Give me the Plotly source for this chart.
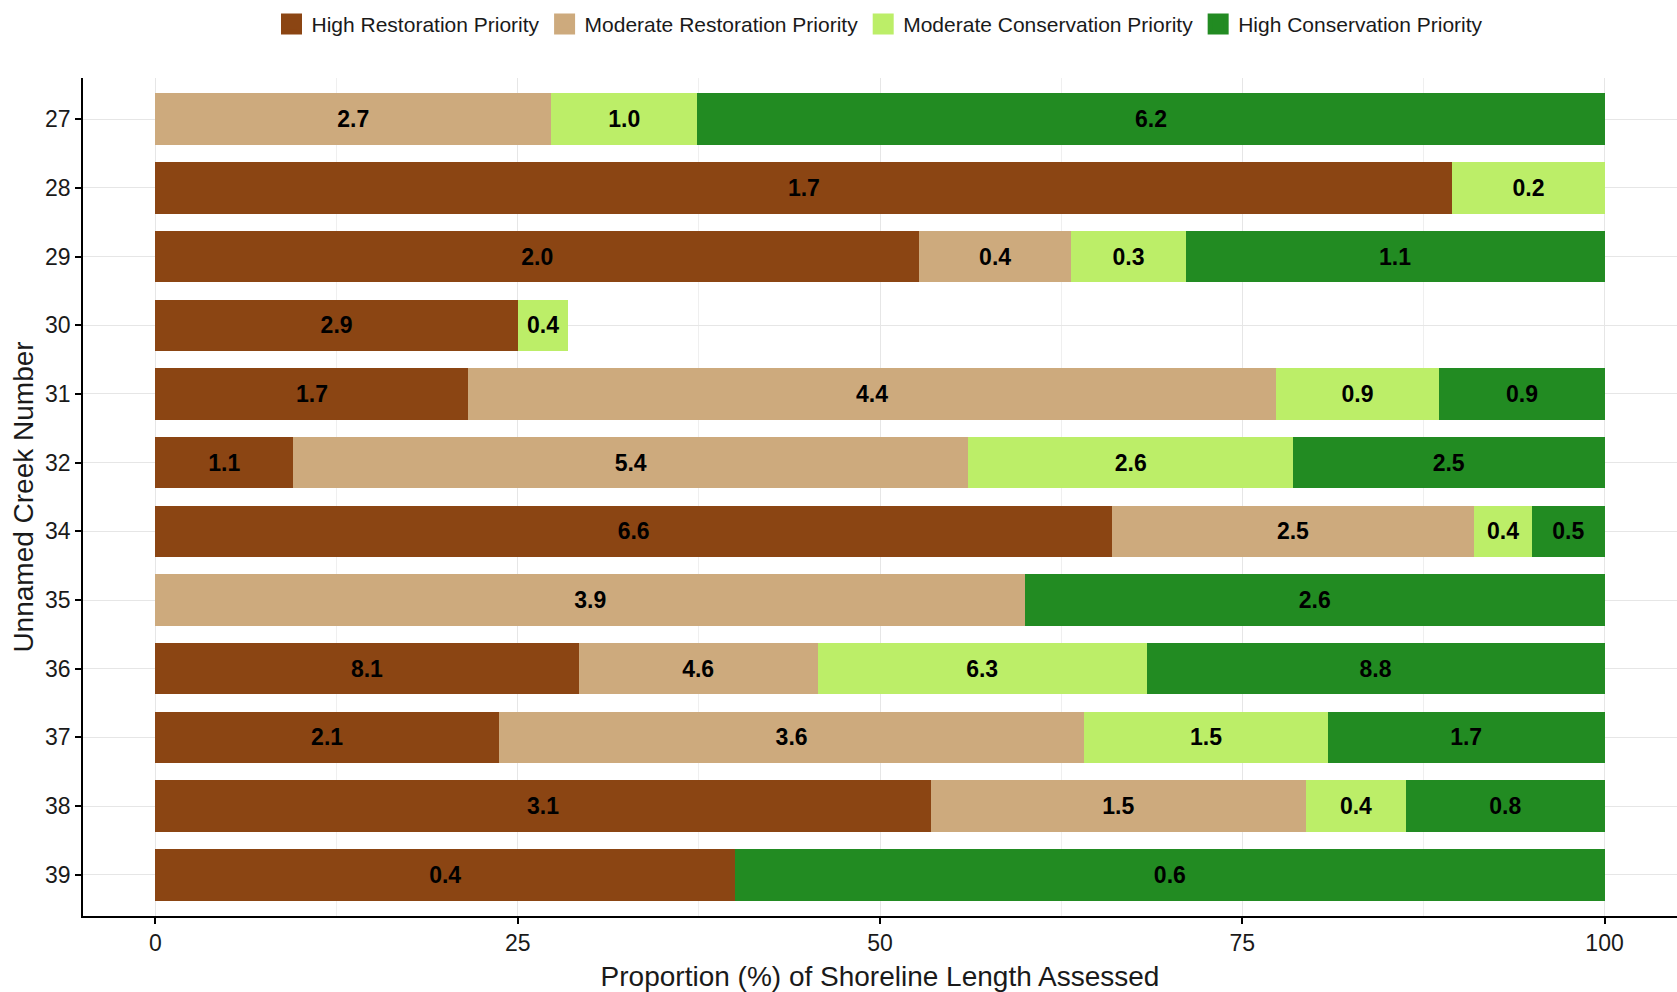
import plotly.graph_objects as go

creeks = ["27", "28", "29", "30", "31", "32", "34", "35", "36", "37", "38", "39"]

categories = ["High Restoration Priority", "Moderate Restoration Priority",
              "Moderate Conservation Priority", "High Conservation Priority"]
colors = ["#8B4513", "#CDAA7D", "#BCEE68", "#228B22"]

# proportion (%) of shoreline length assessed
high_rest = [None, 89.5, 52.7, 25.0, 21.6, 9.5, 66.0, None, 29.2, 23.7, 53.5, 40.0]
mod_rest = [27.3, None, 10.5, None, 55.7, 46.6, 25.0, 60.0, 16.5, 40.4, 25.9, None]
mod_cons = [10.1, 10.5, 7.9, 3.5, 11.3, 22.4, 4.0, None, 22.7, 16.8, 6.9, None]
high_cons = [62.6, None, 28.9, None, 11.4, 21.5, 5.0, 40.0, 31.6, 19.1, 13.7, 60.0]

# labelled lengths
high_rest_lbl = ["", "1.7", "2.0", "2.9", "1.7", "1.1", "6.6", "", "8.1", "2.1", "3.1", "0.4"]
mod_rest_lbl = ["2.7", "", "0.4", "", "4.4", "5.4", "2.5", "3.9", "4.6", "3.6", "1.5", ""]
mod_cons_lbl = ["1.0", "0.2", "0.3", "0.4", "0.9", "2.6", "0.4", "", "6.3", "1.5", "0.4", ""]
high_cons_lbl = ["6.2", "", "1.1", "", "0.9", "2.5", "0.5", "2.6", "8.8", "1.7", "0.8", "0.6"]

x_ticks = [0, 25, 50, 75, 100]

series = [high_rest, mod_rest, mod_cons, high_cons]
labels = [high_rest_lbl, mod_rest_lbl, mod_cons_lbl, high_cons_lbl]

FONT = "Arial, Liberation Sans, sans-serif"
LBL_FONT = "Liberation Sans Narrow, Arial Narrow, Arial, Liberation Sans, sans-serif"

fig = go.Figure()
for name, vals, lbls, col in zip(categories, series, labels, colors):
    fig.add_trace(go.Bar(
        y=creeks, x=vals, orientation="h", name=name,
        marker=dict(color=col, line=dict(width=0)),
        text=lbls, texttemplate="%{text}", textposition="inside",
        insidetextanchor="middle", textangle=0,
        textfont=dict(family=LBL_FONT, size=23, color="black", weight="bold"),
        showlegend=False, hoverinfo="skip",
    ))

# legend entries with larger square keys
for name, col in zip(categories, colors):
    fig.add_trace(go.Scatter(
        x=[None], y=[None], mode="markers", name=name,
        marker=dict(symbol="square", size=16, color=col, line=dict(color=col, width=5)),
        showlegend=True, hoverinfo="skip",
    ))

fig.update_layout(
    width=1677, height=992,
    barmode="stack", bargap=0.25,
    plot_bgcolor="white", paper_bgcolor="white",
    margin=dict(l=83, r=0, t=78, b=76),
    font=dict(family=FONT, color="#1a1a1a"),
    uniformtext=dict(minsize=23, mode="show"),
    legend=dict(
        orientation="h", x=0.5, xanchor="center", y=1.064, yanchor="middle",
        font=dict(family=FONT, size=21, color="#1a1a1a"),
        itemwidth=30, traceorder="normal", itemsizing="trace",
    ),
    xaxis=dict(
        range=[-5, 105], tickvals=x_ticks, ticktext=[str(v) for v in x_ticks],
        showline=True, linecolor="black", linewidth=1.5,
        ticks="outside", ticklen=6, tickcolor="black", tickwidth=1.5,
        tickfont=dict(size=23, color="#1a1a1a"),
        showgrid=True, gridcolor="#E6E6E6", gridwidth=1.2, zeroline=False,
        minor=dict(dtick=12.5, tick0=0, showgrid=True, gridcolor="#EFEFEF", gridwidth=1),
        title=dict(text="Proportion (%) of Shoreline Length Assessed",
                   font=dict(size=28, color="#1a1a1a"), standoff=12),
        automargin=False,
    ),
    yaxis=dict(
        type="category", categoryorder="array", categoryarray=creeks,
        range=[11.6, -0.6],
        showline=True, linecolor="black", linewidth=1.5,
        ticks="outside", ticklen=6, tickcolor="black", tickwidth=1.5,
        tickfont=dict(size=23, color="#1a1a1a"),
        showgrid=True, gridcolor="#E6E6E6", gridwidth=1.2, zeroline=False,
        title=dict(text="Unnamed Creek Number", font=dict(size=28, color="#1a1a1a"), standoff=3),
        automargin=False,
    ),
)

fig.write_html("out.html",
               config={"displayModeBar": False},
               post_script="document.body.style.margin='0';document.body.style.overflow='hidden';")
